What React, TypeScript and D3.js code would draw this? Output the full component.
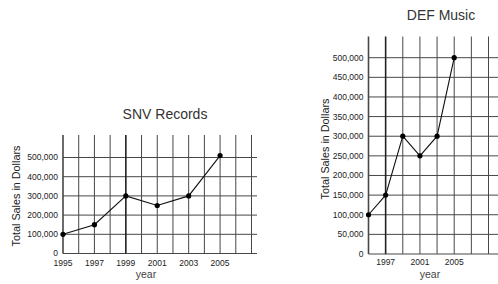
import React, { useRef, useEffect } from "react";
import { select, scaleLinear, line, format, range, Selection } from "d3";

// SNV Records (left)
const snvYears = [1995, 1997, 1999, 2001, 2003, 2005];
const snvSales = [100000, 150000, 300000, 250000, 300000, 510000];
const snvSalesTicks = [0, 100000, 200000, 300000, 400000, 500000];
const snvYearTicks = [1995, 1997, 1999, 2001, 2003, 2005];

// DEF Music (right)
const defYears = [1995, 1997, 1999, 2001, 2003, 2005];
const defSales = [100000, 150000, 300000, 250000, 300000, 500000];
const defSalesTicks = [
  0, 50000, 100000, 150000, 200000, 250000, 300000, 350000, 400000, 450000,
  500000,
];
const defYearTicks = [1997, 2001, 2005];

interface ChartConfig {
  title: string;
  titleX: number;
  titleY: number;
  years: number[];
  sales: number[];
  salesTicks: number[];
  yearTicks: number[];
  gridYears: number[];
  heavyYear: number;
  xDomain: [number, number];
  xRange: [number, number];
  yDomain: [number, number];
  yRange: [number, number];
  yTop: number;
  gridRight: number;
  yLabelX: number;
  yLabelY: number;
  xLabelX: number;
  xLabelY: number;
  xTickDy: number;
}

const fmt = format(",");
const FONT = "'Liberation Sans', Arial, Helvetica, sans-serif";

function drawChart(
  svg: Selection<SVGSVGElement, unknown, null, undefined>,
  c: ChartConfig
) {
  const x = scaleLinear().domain(c.xDomain).range(c.xRange);
  const y = scaleLinear().domain(c.yDomain).range(c.yRange);
  const g = svg.append("g").style("font-family", FONT);
  const x0 = x(c.xDomain[0]);
  const y0 = y(0);

  // horizontal grid
  g.selectAll(".hgrid")
    .data(c.salesTicks)
    .join("line")
    .attr("x1", x0)
    .attr("x2", c.gridRight)
    .attr("y1", (d) => y(d))
    .attr("y2", (d) => y(d))
    .attr("stroke", "#474747")
    .attr("stroke-width", 1);

  // vertical grid
  g.selectAll(".vgrid")
    .data(c.gridYears)
    .join("line")
    .attr("x1", (d) => x(d))
    .attr("x2", (d) => x(d))
    .attr("y1", c.yTop)
    .attr("y2", y0)
    .attr("stroke", (d) => (d === c.heavyYear ? "#222" : "#474747"))
    .attr("stroke-width", (d) => (d === c.heavyYear || d === c.xDomain[0] ? 1.6 : 1));

  // y tick labels
  g.selectAll(".ytick")
    .data(c.salesTicks)
    .join("text")
    .attr("x", x0 - 5)
    .attr("y", (d) => y(d))
    .attr("dy", "0.35em")
    .attr("text-anchor", "end")
    .attr("font-size", 8.5)
    .attr("fill", "#222")
    .text((d) => fmt(d));

  // x tick labels
  g.selectAll(".xtick")
    .data(c.yearTicks)
    .join("text")
    .attr("x", (d) => x(d))
    .attr("y", y0 + c.xTickDy)
    .attr("text-anchor", "middle")
    .attr("font-size", 8.5)
    .attr("fill", "#222")
    .text((d) => d);

  // data line + dots
  const pts: [number, number][] = c.years.map((yr, i) => [x(yr), y(c.sales[i])]);
  g.append("path")
    .attr("d", line()(pts))
    .attr("fill", "none")
    .attr("stroke", "#111")
    .attr("stroke-width", 1.1);
  g.selectAll(".dot")
    .data(pts)
    .join("circle")
    .attr("cx", (d) => d[0])
    .attr("cy", (d) => d[1])
    .attr("r", 2.6)
    .attr("fill", "#000");

  // titles
  g.append("text")
    .attr("x", c.titleX)
    .attr("y", c.titleY)
    .attr("text-anchor", "middle")
    .attr("font-size", 14)
    .attr("fill", "#333")
    .text(c.title);
  g.append("text")
    .attr("transform", `translate(${c.yLabelX},${c.yLabelY}) rotate(-90)`)
    .attr("text-anchor", "middle")
    .attr("font-size", 10.8)
    .attr("fill", "#222")
    .text("Total Sales in Dollars");
  g.append("text")
    .attr("x", c.xLabelX)
    .attr("y", c.xLabelY)
    .attr("text-anchor", "middle")
    .attr("font-size", 10.5)
    .attr("fill", "#444")
    .text("year");
}

const App: React.FC = () => {
  const svgRef = useRef<SVGSVGElement>(null);

  useEffect(() => {
    const svg = select(svgRef.current!);
    svg.selectAll("*").remove();

    drawChart(svg, {
      title: "SNV Records",
      titleX: 165,
      titleY: 119,
      years: snvYears,
      sales: snvSales,
      salesTicks: snvSalesTicks,
      yearTicks: snvYearTicks,
      gridYears: range(1995, 2008, 1),
      heavyYear: 1999,
      xDomain: [1995, 2007],
      xRange: [63, 251.5],
      yDomain: [0, 500000],
      yRange: [253.5, 157.5],
      yTop: 135,
      gridRight: 257,
      yLabelX: 20,
      yLabelY: 196,
      xLabelX: 146,
      xLabelY: 278,
      xTickDy: 12.5,
    });

    drawChart(svg, {
      title: "DEF Music",
      titleX: 441,
      titleY: 20,
      years: defYears,
      sales: defSales,
      salesTicks: defSalesTicks,
      yearTicks: defYearTicks,
      gridYears: range(1995, 2010, 2),
      heavyYear: 1997,
      xDomain: [1995, 2009],
      xRange: [368.5, 488.5],
      yDomain: [0, 500000],
      yRange: [254, 57.7],
      yTop: 36.5,
      gridRight: 500,
      yLabelX: 329,
      yLabelY: 149,
      xLabelX: 430,
      xLabelY: 278,
      xTickDy: 10.5,
    });
  }, []);

  return (
    <svg
      ref={svgRef}
      width={498}
      height={284}
      style={{ position: "absolute", left: 0, top: 0, background: "#fff" }}
    ></svg>
  );
};

export default App;
